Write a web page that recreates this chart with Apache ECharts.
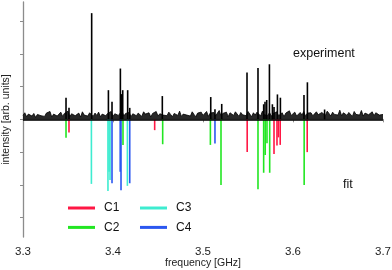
<!DOCTYPE html>
<html><head><meta charset="utf-8">
<script src="https://cdn.jsdelivr.net/npm/echarts@6/dist/echarts.min.js"></script>
<style>html,body{margin:0;padding:0;background:#fff}#c{width:392px;height:270px}</style>
</head><body><div id="c"></div>
<script>
// ---- data ----
const xTicks = [3.3, 3.4, 3.5, 3.6, 3.7];
const yTicks = [-3, -2, -1, 0, 1, 2, 3];
const noiseStart = 3.3, noiseStep = 0.002;
const noise = [
0.12,0.20,0.08,0.16,0.22,0.10,0.18,0.06,0.15,0.21,0.11,0.17,0.09,0.19,0.13,0.24,0.07,0.16,0.20,0.10,
0.14,0.22,0.09,0.18,0.12,0.25,0.08,0.17,0.21,0.11,0.15,0.19,0.07,0.23,0.13,0.18,0.10,0.20,0.14,0.09,
0.19,0.12,0.22,0.08,0.16,0.21,0.11,0.18,0.14,0.24,0.09,0.17,0.20,0.12,0.15,0.26,0.10,0.18,0.13,0.21,
0.08,0.17,0.22,0.11,0.19,0.14,0.09,0.23,0.16,0.12,0.20,0.07,0.18,0.15,0.24,0.10,0.17,0.21,0.13,0.19,
0.11,0.22,0.15,0.08,0.18,0.20,0.12,0.25,0.09,0.16,0.21,0.13,0.18,0.10,0.23,0.15,0.08,0.19,0.14,0.22,
0.12,0.17,0.24,0.09,0.19,0.14,0.21,0.11,0.16,0.27,0.10,0.18,0.13,0.22,0.08,0.20,0.15,0.12,0.23,0.17,
0.09,0.21,0.14,0.19,0.11,0.24,0.16,0.08,0.20,0.13,0.22,0.17,0.10,0.25,0.14,0.19,0.12,0.21,0.09,0.18,
0.15,0.23,0.11,0.17,0.20,0.08,0.19,0.14,0.26,0.12,0.18,0.22,0.10,0.16,0.21,0.13,0.24,0.09,0.19,0.15,
0.20,0.11,0.17,0.23,0.14,0.09,0.21,0.16,0.12,0.25,0.18,0.10,0.22,0.15,0.19,0.13,0.28,0.11,0.20,0.16,
0.12,0.21,0.18,0.09,0.24,0.15,0.20,0.13,0.27,0.10,0.19,0.22,0.14,0.17,0.23,0.11,0.20,0.26,0.13,0.18,
0.15];
// experimental peaks: [frequency GHz, height]
const expPeaks = [
[3.3478,0.66],[3.3511,0.35],[3.3763,3.24],[3.3949,0.89],[3.3989,0.54],
[3.4082,1.55],[3.4093,0.77],[3.4108,0.89],[3.4163,0.89],[3.4186,0.35],
[3.4548,0.71],[3.5086,0.68],[3.5133,0.31],[3.5208,0.47],[3.5489,1.43],
[3.5611,1.57],[3.5674,0.46],[3.5689,0.54],[3.5708,0.59],[3.5738,1.68],
[3.5771,0.46],[3.5789,0.38],[3.5827,0.76],[3.5860,0.66],[3.6122,0.74],
[3.6160,1.13],[3.6351,0.30]
];
// fit sticks (negative = drawn downward)
const C1 = [[3.3511,-0.40],[3.4463,-0.33],[3.5491,-1.00],[3.5789,-1.06],[3.5822,-0.80],[3.5838,-0.55],[3.5858,-0.78],[3.6158,-1.00]];
const C2 = [[3.3478,-0.56],[3.4111,-0.78],[3.4552,-0.76],[3.5082,-0.78],[3.5200,-2.00],[3.5611,-2.13],[3.5674,-1.63],[3.5691,-1.09],[3.5711,-0.73],[3.5741,-1.63],[3.6124,-2.00]];
const C3 = [[3.3760,-1.97],[3.3944,-2.19],[3.3956,-1.60],[3.3967,-1.85],[3.4160,-2.03]];
const C4 = [[3.3989,-1.95],[3.4080,-1.60],[3.4089,-2.16],[3.4186,-1.95],[3.5133,-0.74]];

// ---- chart ----
const noiseData = noise.map((v, i) => [+(noiseStart + i * noiseStep).toFixed(4), v]);
function stick(params, api) {
  const a = api.coord([api.value(0), 0]);
  const b = api.coord([api.value(0), api.value(1)]);
  return {type: 'line', shape: {x1: a[0], y1: a[1], x2: b[0], y2: b[1]},
          style: {stroke: api.visual('color'), lineWidth: 1.6}};
}
function stickSeries(name, data, color) {
  return {name, type: 'custom', renderItem: stick, data, itemStyle: {color},
          encode: {x: 0, y: 1}, silent: true, z: 3};
}
const axisGray = '#8c8c8c';
const FONT = 'Liberation Sans, Arial, sans-serif';
const chart = echarts.init(document.getElementById('c'), null, {renderer: 'canvas'});
chart.setOption({
  animation: false,
  textStyle: {fontFamily: FONT},
  grid: {left: 23, right: 9, top: 2, bottom: 33, containLabel: false, outerBoundsMode: 'none'},
  xAxis: {
    type: 'value', min: 3.3, max: 3.7, interval: 0.1,
    axisLine: {lineStyle: {color: axisGray, width: 1.3}},
    axisTick: {length: 3, lineStyle: {color: axisGray}},
    axisLabel: {color: '#222', fontSize: 11.5, margin: 9, customValues: xTicks,
                formatter: v => v.toFixed(1)},
    splitLine: {show: false},
    name: 'frequency [GHz]', nameLocation: 'middle', nameGap: 21, nameMoveOverlap: false,
    nameTextStyle: {color: '#222', fontSize: 10.5}
  },
  yAxis: {
    type: 'value', min: -3.59, max: 3.58,
    axisLine: {show: true, lineStyle: {color: axisGray, width: 1.3}},
    axisTick: {show: true, length: 3, customValues: yTicks, lineStyle: {color: axisGray}},
    axisLabel: {show: false},
    splitLine: {show: false},
    name: 'intensity [arb. units]', nameLocation: 'middle', nameGap: 11, nameRotate: 90,
    nameTextStyle: {color: '#222', fontSize: 10.5}
  },
  legend: [
    {data: [{name: 'C1', icon: 'rect'}, {name: 'C2', icon: 'rect'}], orient: 'vertical',
     left: 68, top: 201, padding: 0, itemWidth: 27, itemHeight: 3, itemGap: 5.4,
     textStyle: {fontSize: 12, color: '#111', lineHeight: 14, padding: [0, 0, 0, 4]}},
    {data: [{name: 'C3', icon: 'rect'}, {name: 'C4', icon: 'rect'}], orient: 'vertical',
     left: 140, top: 201, padding: 0, itemWidth: 27, itemHeight: 3, itemGap: 5.4,
     textStyle: {fontSize: 12, color: '#111', lineHeight: 14, padding: [0, 0, 0, 4]}}
  ],
  graphic: [
    {type: 'text', left: 293, top: 47, style: {text: 'experiment', fontSize: 12.5, fill: '#111', fontFamily: FONT}},
    {type: 'text', left: 343, top: 178, style: {text: 'fit', fontSize: 12.5, fill: '#111', fontFamily: FONT}}
  ],
  series: [
    {name: 'noise', type: 'line', data: noiseData, showSymbol: false, silent: true,
     lineStyle: {color: '#000', width: 0.8}, areaStyle: {color: '#111', opacity: 0.9, origin: 0}, z: 2,
     markLine: {silent: true, symbol: 'none', label: {show: false},
                lineStyle: {color: '#000', width: 1.5, type: 'solid'},
                data: [{yAxis: 0}]}},
    stickSeries('experiment', expPeaks, '#000'),
    stickSeries('C1', C1, '#ff1744'),
    stickSeries('C2', C2, '#22e622'),
    stickSeries('C3', C3, '#3eecd0'),
    stickSeries('C4', C4, '#2b57f0')
  ]
});
</script></body></html>
